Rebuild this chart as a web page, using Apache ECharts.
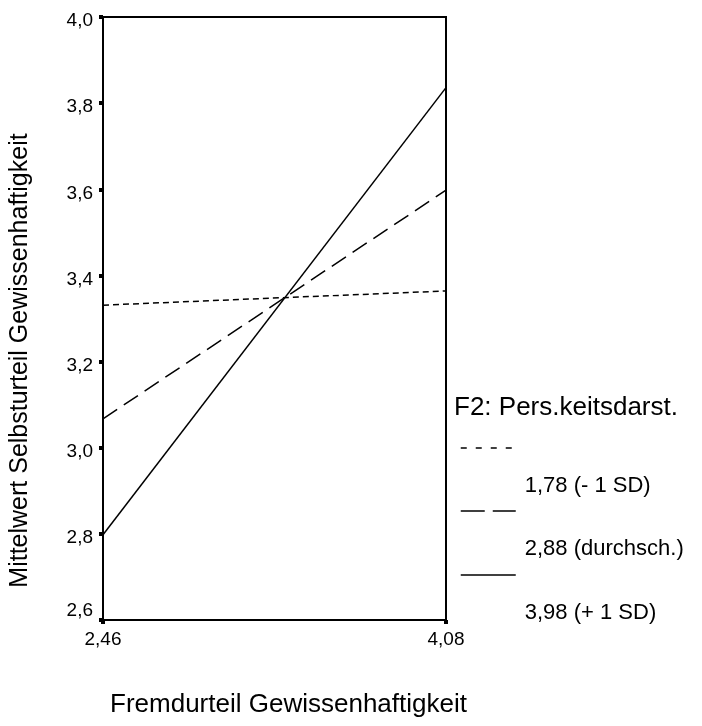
<!DOCTYPE html>
<html>
<head>
<meta charset="utf-8">
<script src="https://cdn.jsdelivr.net/npm/echarts@6/dist/echarts.min.js"></script>
<style>
  html, body { margin: 0; padding: 0; background: #fff; }
  #chart { width: 702px; height: 726px; }
</style>
</head>
<body>
<div id="chart"></div>
<script>
var myChart = echarts.init(document.getElementById('chart'));

// X-Achse: Fremdurteil (nur die beiden Endpunkte)
var xLabels = ['2,46', '4,08'];
// Linien je Moderatorstufe
var seriesNames = ['1,78 (- 1 SD)', '2,88 (durchsch.)', '3,98 (+ 1 SD)'];
var lowSD = [3.331, 3.364];
var meanSD = [3.067, 3.598];
var highSD = [2.798, 3.836];

var font = 'Liberation Sans, Arial, sans-serif';

function lineSeries(name, data, dash) {
    return {
        name: name,
        type: 'line',
        data: data,
        symbol: 'none',
        lineStyle: { color: '#000', width: 1.5, type: dash },
        itemStyle: { color: '#000' },
        emphasis: { disabled: true },
        silent: true
    };
}

// Legende: Linie oben, Beschriftung darunter (wie im SPSS-Original)
function legendFor(name, top, dash) {
    return {
        data: [name],
        left: 460,
        top: top,
        padding: 0,
        itemWidth: 55,
        itemHeight: 14,
        selectedMode: false,
        itemStyle: { opacity: 0 },
        lineStyle: { color: '#000', width: 1.5, type: dash },
        formatter: '{g|}\n{t|{name}}',
        textStyle: {
            fontFamily: font,
            color: '#000',
            rich: {
                g: { lineHeight: 76, fontSize: 12 },
                t: { lineHeight: 20, fontSize: 22, fontFamily: font, color: '#000', padding: [0, 0, 0, 4] }
            }
        }
    };
}

var option = {
    backgroundColor: '#fff',
    animation: false,
    textStyle: { fontFamily: font },
    title: {
        text: 'F2: Pers.keitsdarst.',
        left: 454,
        top: 395,
        padding: 0,
        textStyle: { fontFamily: font, fontSize: 26, fontWeight: 'normal', color: '#000' }
    },
    legend: [
        legendFor(seriesNames[0], 432, [6, 9]),
        legendFor(seriesNames[1], 495, [24, 8]),
        legendFor(seriesNames[2], 559, 'solid')
    ],
    grid: {
        left: 103,
        right: 256,
        top: 17,
        bottom: 106,
        show: true,
        borderColor: '#000',
        borderWidth: 2
    },
    xAxis: {
        type: 'category',
        data: xLabels,
        boundaryGap: false,
        name: 'Fremdurteil Gewissenhaftigkeit',
        nameLocation: 'middle',
        nameGap: 72,
        nameTextStyle: { fontFamily: font, fontSize: 26, color: '#000', padding: [0, 0, 0, 28] },
        axisLine: { lineStyle: { color: '#000', width: 2 } },
        axisTick: { show: true, length: 4, lineStyle: { color: '#000', width: 4 } },
        axisLabel: { fontFamily: font, fontSize: 19, color: '#000', margin: 10 },
        splitLine: { show: false }
    },
    yAxis: {
        type: 'value',
        min: 2.6,
        max: 4.0,
        interval: 0.2,
        name: 'Mittelwert Selbsturteil Gewissenhaftigkeit',
        nameLocation: 'middle',
        nameGap: 70,
        nameTextStyle: { fontFamily: font, fontSize: 25, color: '#000', padding: [0, 84, 0, 0] },
        axisLine: { show: true, lineStyle: { color: '#000', width: 2 } },
        axisTick: { show: true, length: 4, lineStyle: { color: '#000', width: 4 } },
        axisLabel: {
            fontFamily: font,
            fontSize: 19,
            color: '#000',
            margin: 10,
            formatter: function (v) {
                var s = v.toFixed(1).replace('.', ',');
                // unterste Beschriftung sitzt über dem Strich
                return Math.abs(v - 2.6) < 1e-6 ? '{lo|' + s + '}' : '{n|' + s + '}';
            },
            rich: {
                n: { fontFamily: font, fontSize: 19, color: '#000', padding: [8, 0, 0, 0] },
                lo: { fontFamily: font, fontSize: 19, color: '#000', padding: [0, 0, 18, 0] }
            }
        },
        splitLine: { show: false }
    },
    series: [
        lineSeries(seriesNames[0], lowSD, [6, 4]),
        lineSeries(seriesNames[1], meanSD, [17, 8]),
        lineSeries(seriesNames[2], highSD, 'solid')
    ]
};

myChart.setOption(option);
</script>
</body>
</html>
